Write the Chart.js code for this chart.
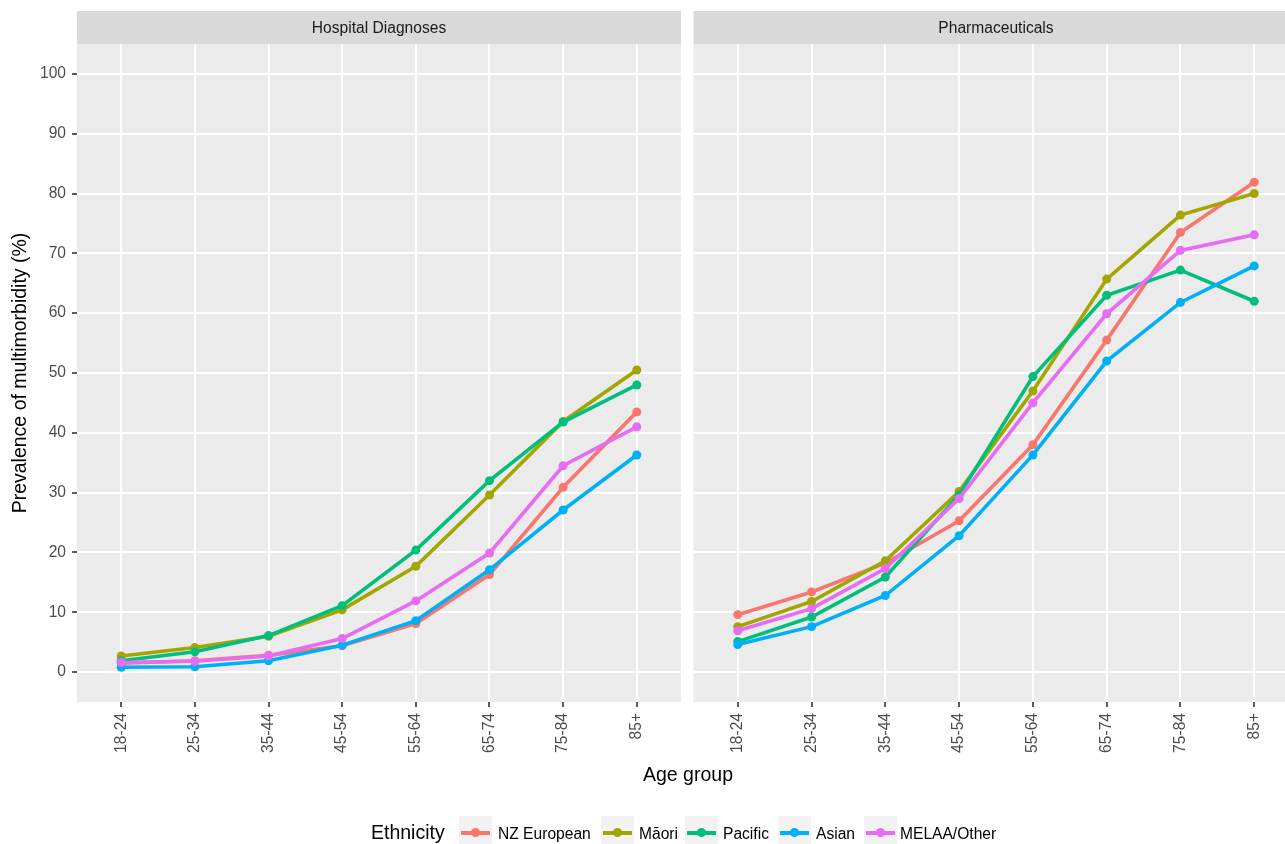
<!DOCTYPE html>
<html>
<head>
<meta charset="utf-8">
<script src="https://cdn.jsdelivr.net/npm/chart.js@4.4.0/dist/chart.umd.min.js"></script>
<style>
  html, body { margin: 0; padding: 0; background: #ffffff; overflow: hidden; }
  #wrap { position: relative; width: 1285px; height: 844px; overflow: hidden; font-family: "Liberation Sans", Arial, sans-serif; }
  .cbox { position: absolute; top: 0; }
  .txt { position: absolute; white-space: nowrap; color: #000; }
  .key { position: absolute; top: 816px; width: 33px; height: 33px; background: #F2F2F2; }
  .kline { position: absolute; left: 2px; width: 29px; top: 14.7px; height: 4px; }
  .kpt { position: absolute; left: 12px; top: 12.2px; width: 9px; height: 9px; border-radius: 50%; }
</style>
</head>
<body>
<div id="wrap">
  <div class="cbox" style="left:0; width:690px; height:844px;"><canvas id="c1" width="690" height="844"></canvas></div>
  <div class="cbox" style="left:689px; width:614px; height:844px;"><canvas id="c2" width="614" height="844"></canvas></div>
  <div class="txt" id="xtitle" style="left:688px; top:764.5px; font-size:19.5px; line-height:19.5px; transform:translateX(-50%);">Age group</div>
  <div id="legend"></div>
</div>
<script>
// ---- data ----
const ageGroups = ['18-24', '25-34', '35-44', '45-54', '55-64', '65-74', '75-84', '85+'];
const ethnicities = ['NZ European', 'Māori', 'Pacific', 'Asian', 'MELAA/Other'];
const panelTitles = ['Hospital Diagnoses', 'Pharmaceuticals'];
const yTicks = [0, 10, 20, 30, 40, 50, 60, 70, 80, 90, 100];

// Hospital Diagnoses (%)
const nzEuropeanHosp = [1.5, 1.9, 2.8, 4.4, 8.1, 16.3, 30.9, 43.5];
const maoriHosp      = [2.7, 4.1, 6.0, 10.4, 17.7, 29.6, 41.9, 50.5];
const pacificHosp    = [1.9, 3.4, 6.1, 11.1, 20.4, 32.0, 41.8, 48.0];
const asianHosp      = [0.8, 0.9, 1.9, 4.5, 8.6, 17.1, 27.1, 36.3];
const melaaHosp      = [1.6, 1.8, 2.7, 5.6, 11.9, 19.9, 34.5, 41.0];

// Pharmaceuticals (%)
const nzEuropeanPharm = [9.6, 13.4, 18.2, 25.3, 38.0, 55.5, 73.5, 81.9];
const maoriPharm      = [7.6, 11.8, 18.6, 30.2, 47.0, 65.7, 76.4, 80.0];
const pacificPharm    = [5.1, 9.2, 15.9, 29.6, 49.4, 63.0, 67.2, 62.0];
const asianPharm      = [4.6, 7.6, 12.8, 22.8, 36.3, 52.0, 61.8, 67.9];
const melaaPharm      = [6.9, 10.6, 17.3, 29.0, 45.0, 59.9, 70.5, 73.1];

const colors = ['#F8766D', '#A3A500', '#00BF7D', '#00B0F6', '#E76BF3'];

// ---- helpers ----
const FONT = '"Liberation Sans", Arial, sans-serif';

function makeDatasets(seriesList) {
  return seriesList.map((vals, i) => ({
    label: ethnicities[i],
    data: vals.map((v, j) => ({ x: j, y: v })),
    borderColor: colors[i],
    backgroundColor: colors[i],
    borderWidth: 3.6,
    pointRadius: 4.5,
    pointHoverRadius: 4.5,
    pointBorderWidth: 0,
    tension: 0,
    order: ethnicities.length - 1 - i
  }));
}

const panelPlugin = {
  id: 'panel',
  beforeDraw(chart, args, opts) {
    const { ctx, chartArea: a } = chart;
    ctx.save();
    ctx.fillStyle = '#EBEBEB';
    ctx.fillRect(a.left, a.top, a.right - a.left, a.bottom - a.top);
    ctx.fillStyle = '#D9D9D9';
    ctx.fillRect(a.left, 11, a.right - a.left, a.top - 11);
    ctx.fillStyle = '#1A1A1A';
    ctx.font = '15.6px ' + FONT;
    ctx.textAlign = 'center';
    ctx.textBaseline = 'middle';
    ctx.fillText(opts.text, (a.left + a.right) / 2, (11 + a.top) / 2 + 1);
    ctx.restore();
  }
};

function makeConfig(seriesList, title, showY) {
  return {
    type: 'line',
    data: { datasets: makeDatasets(seriesList) },
    plugins: [panelPlugin],
    options: {
      responsive: false,
      animation: false,
      devicePixelRatio: 1,
      layout: { padding: { top: 44, left: 0, right: showY ? 9 : 4, bottom: 82 } },
      plugins: {
        legend: { display: false },
        tooltip: { enabled: false },
        panel: { text: title }
      },
      scales: {
        x: {
          type: 'linear',
          min: -0.6,
          max: 7.6,
          afterFit(s) { s.height = 60; },
          afterBuildTicks(s) { s.ticks = ageGroups.map((_, i) => ({ value: i })); },
          ticks: {
            stepSize: 1,
            includeBounds: false,
            autoSkip: false,
            maxRotation: 90,
            minRotation: 90,
            padding: 6,
            color: '#4D4D4D',
            font: { family: FONT, size: 15.6 },
            callback: (v) => ageGroups[v] !== undefined ? ageGroups[v] : ''
          },
          grid: {
            color: '#FFFFFF',
            lineWidth: 2,
            drawTicks: true,
            tickLength: 5,
            tickColor: '#333333',
            tickWidth: 1.6
          },
          border: { display: false }
        },
        y: {
          type: 'linear',
          min: -5,
          max: 105,
          afterFit(s) { s.width = showY ? 77 : 0; },
          afterBuildTicks(s) { s.ticks = yTicks.map(v => ({ value: v })); },
          ticks: {
            display: showY,
            stepSize: 10,
            includeBounds: false,
            padding: 6,
            color: '#4D4D4D',
            font: { family: FONT, size: 15.6 }
          },
          grid: {
            color: '#FFFFFF',
            lineWidth: 2,
            drawTicks: showY,
            tickLength: 5,
            tickColor: '#333333',
            tickWidth: 1.6
          },
          border: { display: false },
          title: {
            display: showY,
            text: 'Prevalence of multimorbidity (%)',
            color: '#000000',
            font: { family: FONT, size: 19.5 },
            padding: { top: 9, bottom: 0 }
          }
        }
      }
    }
  };
}

new Chart(document.getElementById('c1'),
  makeConfig([nzEuropeanHosp, maoriHosp, pacificHosp, asianHosp, melaaHosp], panelTitles[0], true));
new Chart(document.getElementById('c2'),
  makeConfig([nzEuropeanPharm, maoriPharm, pacificPharm, asianPharm, melaaPharm], panelTitles[1], false));

// ---- legend (HTML) ----
const legend = document.getElementById('legend');
const ttl = document.createElement('div');
ttl.className = 'txt';
ttl.style.cssText = 'left:371px; top:822.8px; font-size:19.5px; line-height:19.5px;';
ttl.textContent = 'Ethnicity';
legend.appendChild(ttl);
const keyLefts = [459, 601, 685, 778, 863.5];
const textLefts = [498, 639, 723, 816, 900];
ethnicities.forEach((name, i) => {
  const k = document.createElement('div');
  k.className = 'key';
  k.style.left = keyLefts[i] + 'px';
  const l = document.createElement('div');
  l.className = 'kline';
  l.style.background = colors[i];
  const p = document.createElement('div');
  p.className = 'kpt';
  p.style.background = colors[i];
  k.appendChild(l); k.appendChild(p);
  legend.appendChild(k);
  const t = document.createElement('div');
  t.className = 'txt';
  t.style.cssText = 'left:' + textLefts[i] + 'px; top:825.5px; font-size:15.6px; line-height:15.6px;';
  t.textContent = name;
  legend.appendChild(t);
});
</script>
</body>
</html>
